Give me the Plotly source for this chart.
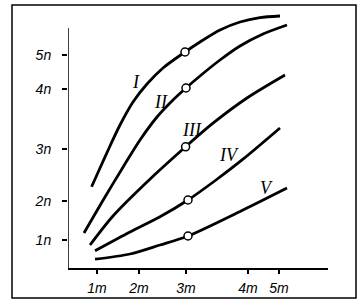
import plotly.graph_objects as go

# ---- data (axis units: arbitrary linear units matching the drawing) ----
x_tick_vals = [0.725, 1.775, 2.95, 4.5, 5.275]
x_tick_text = ["1m", "2m", "3m", "4m", "5m"]
y_tick_vals = [0.7, 1.675, 2.975, 4.475, 5.325]
y_tick_text = ["1n", "2n", "3n", "4n", "5n"]

curve_names = ["I", "II", "III", "IV", "V"]

curve_I_x = [0.59, 0.8, 1.05, 1.3, 1.625, 1.975, 2.375, 2.925, 3.3, 3.8, 4.3, 4.8, 5.3]
curve_I_y = [2.03, 2.5, 3.05, 3.575, 4.15, 4.6, 5.0, 5.4, 5.65, 5.95, 6.15, 6.26, 6.3]

curve_II_x = [0.4, 0.925, 1.375, 1.8, 2.225, 2.625, 2.95, 3.3, 3.8, 4.3, 4.875, 5.475]
curve_II_y = [0.875, 1.775, 2.52, 3.2, 3.775, 4.2, 4.5, 4.8, 5.2, 5.55, 5.85, 6.075]

curve_III_x = [0.55, 1.125, 1.975, 2.94, 3.625, 4.475, 5.425]
curve_III_y = [0.575, 1.3, 2.15, 3.03, 3.62, 4.25, 4.825]

curve_IV_x = [0.675, 1.55, 2.3, 3.0, 3.7, 4.375, 5.3]
curve_IV_y = [0.43, 0.9, 1.28, 1.7, 2.2, 2.72, 3.5]

curve_V_x = [0.675, 1.55, 2.3, 3.0, 4.375, 5.475]
curve_V_y = [0.22, 0.35, 0.575, 0.8, 1.45, 2.0]

marker_x = [2.925, 2.95, 2.94, 3.0, 3.0]
marker_y = [5.4, 4.5, 3.03, 1.7, 0.8]

label_x = [1.7, 2.325, 3.1, 4.025, 4.95]
label_y = [4.65, 4.15, 3.45, 2.825, 2.0]

curves_x = [curve_I_x, curve_II_x, curve_III_x, curve_IV_x, curve_V_x]
curves_y = [curve_I_y, curve_II_y, curve_III_y, curve_IV_y, curve_V_y]

W, H = 362, 308

fig = go.Figure()
for name, xs, ys in zip(curve_names, curves_x, curves_y):
    fig.add_trace(go.Scatter(x=xs, y=ys, mode="lines", name=name,
                             line=dict(color="black", width=2.8, shape="spline", smoothing=0.8),
                             hoverinfo="skip"))

fig.add_trace(go.Scatter(x=marker_x, y=marker_y, mode="markers",
                         marker=dict(symbol="circle", size=8, color="white",
                                     line=dict(color="black", width=1.5)),
                         cliponaxis=False, hoverinfo="skip"))

for name, lx, ly in zip(curve_names, label_x, label_y):
    fig.add_annotation(x=lx, y=ly, text=name, showarrow=False,
                       font=dict(family="Liberation Serif", size=18, color="black",
                                 style="italic"))

# y axis line (shorter than the plotting area)
fig.add_shape(type="line", xref="x", yref="y", x0=0, x1=0, y0=0, y1=6.0,
              line=dict(color="black", width=1.5))
# outer frame
fig.add_shape(type="rect", xref="paper", yref="paper",
              x0=12 / W, x1=356 / W, y0=(H - 298) / H, y1=(H - 5) / H,
              line=dict(color="black", width=1.5))

tickfont = dict(family="Liberation Sans", size=14, color="black", style="italic")

fig.update_layout(
    width=W, height=H,
    margin=dict(l=0, r=0, t=0, b=0),
    paper_bgcolor="white", plot_bgcolor="white",
    showlegend=False,
    xaxis=dict(domain=[68 / W, 328 / W], range=[0, 6.5],
               showgrid=False, zeroline=False,
               showline=True, linecolor="black", linewidth=1.5,
               ticks="outside", ticklen=4, tickwidth=1.5, tickcolor="black",
               tickvals=x_tick_vals, ticktext=x_tick_text, tickfont=tickfont,
               ticklabelstandoff=2),
    yaxis=dict(domain=[(H - 268) / H, (H - 10) / H], range=[0, 6.45],
               showgrid=False, zeroline=False, showline=False,
               ticks="outside", ticklen=5, tickwidth=1.5, tickcolor="black",
               tickvals=y_tick_vals, ticktext=y_tick_text, tickfont=tickfont,
               ticklabelstandoff=8),
)

fig.write_html("out.html")
